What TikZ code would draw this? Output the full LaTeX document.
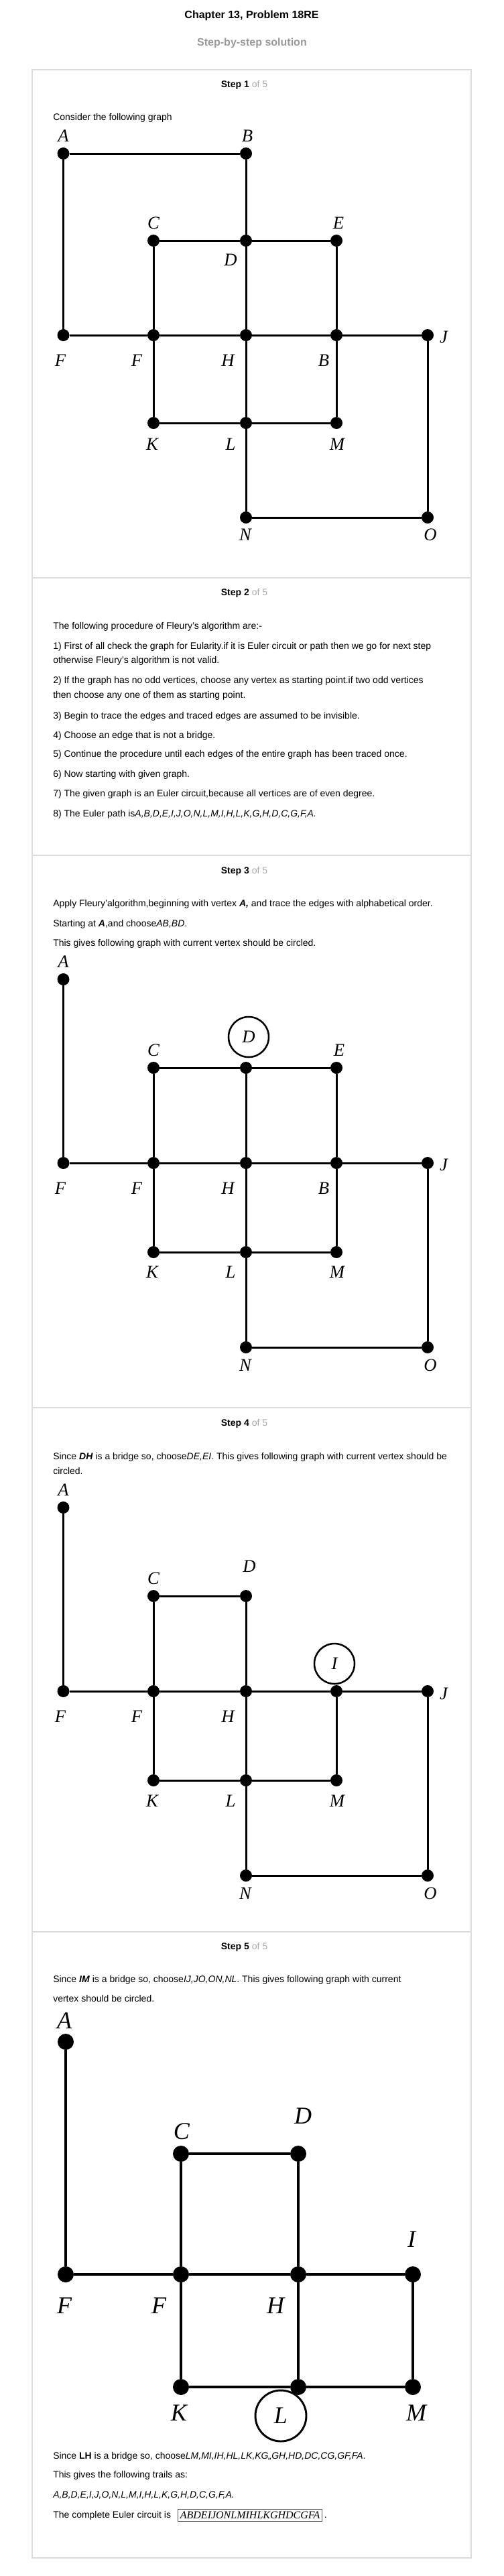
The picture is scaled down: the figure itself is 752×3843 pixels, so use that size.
\documentclass[tikz,border=0pt]{standalone}
\usepackage{fontspec}
\setmainfont{Liberation Sans}
\newfontfamily\labelfont{Liberation Serif}
\usetikzlibrary{positioning}
\definecolor{boxgray}{HTML}{DDDDDD}
\definecolor{subgray}{HTML}{999999}
\definecolor{ofgray}{HTML}{AAAAAA}
\definecolor{framegray}{HTML}{555555}

\begin{document}
\begin{tikzpicture}[x=0.75pt,y=0.75pt,yscale=-1,xscale=1,
	vtx/.style={circle,fill=black,inner sep=0pt,minimum size=13.5pt},
	bigvtx/.style={circle,fill=black,inner sep=0pt,minimum size=18pt},
	link/.style={line width=2.25pt},
	biglink/.style={line width=3.4pt},
	lbl/.style={inner sep=0pt,font=\labelfont\itshape\fontsize{20}{20}\selectfont},
	biglbl/.style={inner sep=0pt,font=\labelfont\itshape\fontsize{27}{27}\selectfont},
	curvtx/.style={circle,draw,line width=1.9pt,minimum size=45pt},
	bigcurvtx/.style={circle,draw,line width=2.2pt,minimum size=57pt},
	txt/.style={anchor=base west,inner sep=0pt,font=\fontsize{10.5}{12.6}\selectfont},
	steplbl/.style={anchor=base,inner sep=0pt,font=\fontsize{10.5}{12.6}\selectfont},
	headline/.style={anchor=base,inner sep=0pt,font=\bfseries\fontsize{12}{14}\selectfont},
	circbox/.style={draw=framegray,line width=0.75pt,inner xsep=2.25pt,inner ysep=3pt,font=\labelfont\itshape\fontsize{12}{12}\selectfont},
	boxline/.style={draw=boxgray,line width=0.9pt}]
			\path[use as bounding box,fill=white] (0,0) rectangle (752,3843);
			
			% Heading
			\node[headline] (title) at (375.5,28) {Chapter 13, Problem 18RE};
			\node[headline,text=subgray] (subtitle) at (376,69) {Step-by-step solution};
			
			% Frame and separators
			\draw[boxline] (48,104) rectangle (703,3816);
			\draw[boxline] (48,862) -- (703,862);
			\draw[boxline] (48,1276) -- (703,1276);
			\draw[boxline] (48,2100) -- (703,2100);
			\draw[boxline] (48,2882) -- (703,2882);
			
			%%%%%%%% Step 1
			\node[steplbl] (st1) at (364.5,131) {\textbf{Step 1} \textcolor{ofgray}{of 5}};
			% Text Node
			\node[txt] (t1) at (79,180) {Consider the following graph};
			%Shape: vertices
			\node[vtx] (a1) at (94.5,229) {};
			\node[vtx] (b1) at (367,229) {};
			\node[vtx] (c1) at (229,359) {};
			\node[vtx] (d1) at (367,359) {};
			\node[vtx] (e1) at (502,359) {};
			\node[vtx] (f1) at (94.5,500) {};
			\node[vtx] (g1) at (229,500) {};
			\node[vtx] (h1) at (367,500) {};
			\node[vtx] (i1) at (502,500) {};
			\node[vtx] (j1) at (638,500) {};
			\node[vtx] (k1) at (229,631) {};
			\node[vtx] (l1) at (367,631) {};
			\node[vtx] (m1) at (502,631) {};
			\node[vtx] (n1) at (367,772) {};
			\node[vtx] (o1) at (638,772) {};
			%Straight Lines
			\draw[link] (f1) -- (a1) -- (b1) -- (d1) -- (h1) -- (l1) -- (n1) -- (o1) -- (j1) -- (i1) -- (e1) -- (d1) -- (c1) -- (g1) -- (k1) -- (l1) -- (m1) -- (i1) -- (h1) -- (g1) -- (f1);
			% Text Node
			\node[lbl] (la1) at (94.5,203) {A};
			\node[lbl] (lb1) at (369,203) {B};
			\node[lbl] (lc1) at (229,333) {C};
			\node[lbl] (le1) at (505,333) {E};
			\node[lbl] (ld1) at (344,388) {D};
			\node[lbl] (lf1) at (90,538) {F};
			\node[lbl] (lg1) at (204,538) {F};
			\node[lbl] (lh1) at (340,538) {H};
			\node[lbl] (li1) at (483,538) {B};
			\node[lbl] (lj1) at (662,503) {J};
			\node[lbl] (lk1) at (227,663) {K};
			\node[lbl] (ll1) at (344,663) {L};
			\node[lbl] (lm1) at (503,663) {M};
			\node[lbl] (ln1) at (366,798) {N};
			\node[lbl] (lo1) at (642,798) {O};
			
			%%%%%%%% Step 2
			\node[steplbl] (st2) at (364.5,888) {\textbf{Step 2} \textcolor{ofgray}{of 5}};
			% Text Node
			\node[txt] (t2a) at (79,938) {The following procedure of Fleury's algorithm are:-};
			\node[txt] (t2b) at (79,968) {1) First of all check the graph for Eularity.if it is Euler circuit or path then we go for next step};
			\node[txt] (t2c) at (79,989) {otherwise Fleury's algorithm is not valid.};
			\node[txt] (t2d) at (79,1019) {2) If the graph has no odd vertices, choose any vertex as starting point.if two odd vertices};
			\node[txt] (t2e) at (79,1041) {then choose any one of them as starting point.};
			\node[txt] (t2f) at (79,1072) {3) Begin to trace the edges and traced edges are assumed to be invisible.};
			\node[txt] (t2g) at (79,1101) {4) Choose an edge that is not a bridge.};
			\node[txt] (t2h) at (79,1129) {5) Continue the procedure until each edges of the entire graph has been traced once.};
			\node[txt] (t2i) at (79,1159) {6) Now starting with given graph.};
			\node[txt] (t2j) at (79,1188) {7) The given graph is an Euler circuit,because all vertices are of even degree.};
			\node[txt] (t2k) at (79,1218) {8) The Euler path is\textit{A,B,D,E,I,J,O,N,L,M,I,H,L,K,G,H,D,C,G,F,A.}};
			
			%%%%%%%% Step 3
			\node[steplbl] (st3) at (364.5,1303) {\textbf{Step 3} \textcolor{ofgray}{of 5}};
			% Text Node
			\node[txt] (t3a) at (79,1352) {Apply Fleury'algorithm,beginning with vertex \textbf{\textit{A,}} and trace the edges with alphabetical order.};
			\node[txt] (t3b) at (79,1382) {Starting at \textbf{\textit{A}},and choose\textit{AB,BD}.};
			\node[txt] (t3c) at (79,1411) {This gives following graph with current vertex should be circled.};
			%Shape: vertices
			\node[vtx] (a3) at (94.5,1461) {};
			\node[vtx] (c3) at (229,1593) {};
			\node[vtx] (d3) at (367,1593) {};
			\node[vtx] (e3) at (502,1593) {};
			\node[vtx] (f3) at (94.5,1735) {};
			\node[vtx] (g3) at (229,1735) {};
			\node[vtx] (h3) at (367,1735) {};
			\node[vtx] (i3) at (502,1735) {};
			\node[vtx] (j3) at (638,1735) {};
			\node[vtx] (k3) at (229,1868) {};
			\node[vtx] (l3) at (367,1868) {};
			\node[vtx] (m3) at (502,1868) {};
			\node[vtx] (n3) at (367,2010) {};
			\node[vtx] (o3) at (638,2010) {};
			%Straight Lines
			\draw[link] (a3) -- (f3) -- (g3) -- (c3) -- (d3) -- (e3) -- (i3) -- (j3) -- (o3) -- (n3) -- (l3) -- (k3) -- (g3) -- (h3) -- (d3);
			\draw[link] (h3) -- (i3) -- (m3) -- (l3) -- (h3);
			% Text Node
			\node[lbl] (la3) at (94.5,1435) {A};
			\node[lbl,curvtx] (ld3) at (371,1547) {D};
			\node[lbl] (lc3) at (229,1567) {C};
			\node[lbl] (le3) at (506,1567) {E};
			\node[lbl] (lf3) at (90,1773) {F};
			\node[lbl] (lg3) at (204,1773) {F};
			\node[lbl] (lh3) at (340,1773) {H};
			\node[lbl] (li3) at (483,1773) {B};
			\node[lbl] (lj3) at (662,1738) {J};
			\node[lbl] (lk3) at (227,1898) {K};
			\node[lbl] (ll3) at (344,1898) {L};
			\node[lbl] (lm3) at (503,1898) {M};
			\node[lbl] (ln3) at (366,2037) {N};
			\node[lbl] (lo3) at (642,2037) {O};
			
			%%%%%%%% Step 4
			\node[steplbl] (st4) at (364.5,2127) {\textbf{Step 4} \textcolor{ofgray}{of 5}};
			% Text Node
			\node[txt] (t4a) at (79,2177) {Since \textbf{\textit{DH}} is a bridge so, choose\textit{DE,EI}. This gives following graph with current vertex should be};
			\node[txt] (t4b) at (79,2199) {circled.};
			%Shape: vertices
			\node[vtx] (a4) at (94.5,2249) {};
			\node[vtx] (c4) at (229,2381) {};
			\node[vtx] (d4) at (367,2381) {};
			\node[vtx] (f4) at (94.5,2523) {};
			\node[vtx] (g4) at (229,2523) {};
			\node[vtx] (h4) at (367,2523) {};
			\node[vtx] (i4) at (502,2523) {};
			\node[vtx] (j4) at (638,2523) {};
			\node[vtx] (k4) at (229,2656) {};
			\node[vtx] (l4) at (367,2656) {};
			\node[vtx] (m4) at (502,2656) {};
			\node[vtx] (n4) at (367,2798) {};
			\node[vtx] (o4) at (638,2798) {};
			%Straight Lines
			\draw[link] (a4) -- (f4) -- (g4) -- (c4) -- (d4) -- (h4) -- (g4) -- (k4) -- (l4) -- (n4) -- (o4) -- (j4) -- (i4) -- (h4) -- (l4) -- (m4) -- (i4);
			% Text Node
			\node[lbl] (la4) at (94.5,2223) {A};
			\node[lbl] (lc4) at (229,2355) {C};
			\node[lbl] (ld4) at (372,2337) {D};
			\node[lbl,curvtx] (li4) at (499,2482) {I};
			\node[lbl] (lj4) at (662,2527) {J};
			\node[lbl] (lf4) at (90,2561) {F};
			\node[lbl] (lg4) at (204,2561) {F};
			\node[lbl] (lh4) at (340,2561) {H};
			\node[lbl] (lk4) at (227,2687) {K};
			\node[lbl] (ll4) at (344,2687) {L};
			\node[lbl] (lm4) at (503,2687) {M};
			\node[lbl] (ln4) at (366,2825) {N};
			\node[lbl] (lo4) at (642,2825) {O};
			
			%%%%%%%% Step 5
			\node[steplbl] (st5) at (364.5,2908) {\textbf{Step 5} \textcolor{ofgray}{of 5}};
			% Text Node
			\node[txt] (t5a) at (79,2957) {Since \textbf{\textit{IM}} is a bridge so, choose\textit{IJ,JO,ON,NL}. This gives following graph with current};
			\node[txt] (t5b) at (79,2986) {vertex should be circled.};
			%Shape: vertices
			\node[bigvtx] (a5) at (98,3046) {};
			\node[bigvtx] (c5) at (270,3213) {};
			\node[bigvtx] (d5) at (445,3213) {};
			\node[bigvtx] (f5) at (98,3393) {};
			\node[bigvtx] (g5) at (270,3393) {};
			\node[bigvtx] (h5) at (445,3393) {};
			\node[bigvtx] (i5) at (616,3393) {};
			\node[bigvtx] (k5) at (270,3561) {};
			\node[bigvtx] (l5) at (445,3561) {};
			\node[bigvtx] (m5) at (616,3561) {};
			%Straight Lines
			\draw[biglink] (a5) -- (f5) -- (g5) -- (c5) -- (d5) -- (h5) -- (g5) -- (k5) -- (l5) -- (h5) -- (i5) -- (m5) -- (l5);
			% Text Node
			\node[biglbl] (la5) at (96,3015) {A};
			\node[biglbl] (lc5) at (271,3180) {C};
			\node[biglbl] (ld5) at (452,3157) {D};
			\node[biglbl] (li5) at (614,3341) {I};
			\node[biglbl] (lf5) at (96,3440) {F};
			\node[biglbl] (lg5) at (237,3440) {F};
			\node[biglbl] (lh5) at (411,3440) {H};
			\node[biglbl] (lk5) at (267,3600) {K};
			\node[biglbl,bigcurvtx] (ll5) at (419,3604) {L};
			\node[biglbl] (lm5) at (621,3600) {M};
			% Text Node
			\node[txt] (t5c) at (79,3668) {Since \textbf{LH} is a bridge so, choose\textit{LM,MI,IH,HL,LK,KG,,GH,HD,DC,CG,GF,FA}.};
			\node[txt] (t5d) at (79,3696) {This gives the following trails as:};
			\node[txt] (t5e) at (79,3726) {\textit{A,B,D,E,I,J,O,N,L,M,I,H,L,K,G,H,D,C,G,F,A.}};
			\node[txt] (t5f) at (79,3756) {The complete Euler circuit is};
			\node[circbox,right=7.5pt of t5f] (euler) {ABDEIJONLMIHLKGHDCGFA};
			\node[txt] (t5g) at ([xshift=2pt]euler.east |- t5f.base) {.};
			
		\end{tikzpicture}
\end{document}
